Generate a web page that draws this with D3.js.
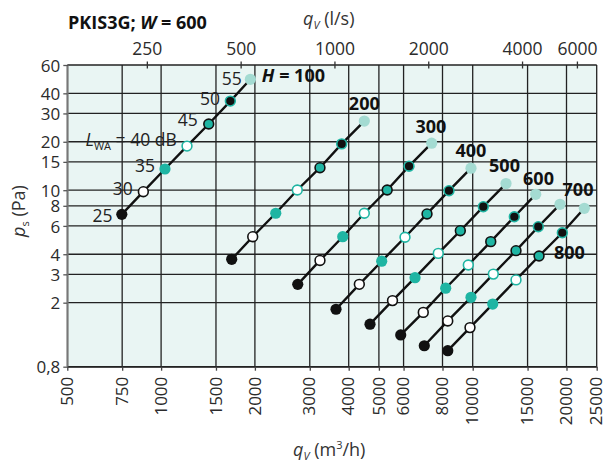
<!DOCTYPE html>
<html>
<head>
<meta charset="utf-8">
<script src="https://cdn.jsdelivr.net/npm/d3@7"></script>
<style>
  body { margin: 0; background: #fff; }
  svg { display: block; }
  text { font-family: "Open Sans", "Noto Sans", sans-serif; fill: #2b2b2b; }
</style>
</head>
<body>
<svg id="chart" width="605" height="464"></svg>
<script>
// Axis ticks
const xTicks = [500, 750, 1000, 1500, 2000, 3000, 4000, 5000, 6000, 8000, 10000, 15000, 20000, 25000]; // m³/h
const yTicks = [0.8, 2, 3, 4, 6, 8, 10, 15, 20, 30, 40, 60];                                      // Pa
const topTicks = [250, 500, 1000, 2000, 4000, 6000];                                              // l/s

// Damper heights H (mm) and sound power levels L_WA (dB) along each line
const heights = [100, 200, 300, 400, 500, 600, 700, 800];
const levels = [25, 30, 35, 40, 45, 50, 55];

// Airflow q_V (m³/h) at each sound level, per height
const qv100 = [748, 877, 1029, 1211, 1422, 1668, 1934];
const qv200 = [1685, 1968, 2333, 2736, 3235, 3798, 4489];
const qv300 = [2745, 3235, 3827, 4489, 5316, 6247, 7385];
const qv400 = [3642, 4327, 5104, 6064, 7135, 8394, 9874];
const qv500 = [4682, 5529, 6530, 7755, 9126, 10816, 12792];
const qv600 = [5875, 6940, 8190, 9680, 11427, 13600, 15930];
const qv700 = [6993, 8317, 9874, 11645, 13772, 16238, 19064];
const qv800 = [8317, 9802, 11594, 13772, 16327, 19391, 22815];

// Static pressure p_s (Pa) at each sound level, per height
const ps100 = [7.08, 9.79, 13.55, 18.8, 25.8, 35.8, 48.9];
const ps200 = [3.72, 5.14, 7.19, 10.03, 13.8, 19.4, 26.9];
const ps300 = [2.60, 3.66, 5.14, 7.19, 10.03, 14.1, 19.6];
const ps400 = [1.82, 2.60, 3.62, 5.10, 7.12, 9.93, 13.7];
const ps500 = [1.47, 2.06, 2.86, 4.05, 5.60, 7.90, 11.0];
const ps600 = [1.26, 1.74, 2.46, 3.43, 4.79, 6.84, 9.43];
const ps700 = [1.08, 1.54, 2.16, 3.01, 4.21, 5.93, 8.17];
const ps800 = [1.006, 1.40, 1.96, 2.77, 3.90, 5.44, 7.72];

const qvSets = [qv100, qv200, qv300, qv400, qv500, qv600, qv700, qv800];
const psSets = [ps100, ps200, ps300, ps400, ps500, ps600, ps700, ps800];

// ---- drawing ----
const W = 605, H = 464;
const m = { l: 67.3, r: 8.3, t: 65, b: 97.3 };
const svg = d3.select("#chart");

const x = d3.scaleLog().domain([500, 25000]).range([m.l, W - m.r]);
const y = d3.scaleLog().domain([0.8, 60]).range([H - m.b, m.t]);
const xTop = d3.scaleLog().domain([500 / 3.6, 25000 / 3.6]).range(x.range()); // 1 l/s = 3.6 m³/h

const BLACK = "#111", TEAL = "#1fb5a3", LIGHT = "#a4dbd2", BG = "#e9f5f3", GRID = "#222";

// plot background
svg.append("rect")
  .attr("x", x.range()[0]).attr("y", y.range()[1])
  .attr("width", x.range()[1] - x.range()[0])
  .attr("height", y.range()[0] - y.range()[1])
  .attr("fill", BG);

// grid
const grid = svg.append("g").attr("stroke", GRID).attr("stroke-width", 1.3);
grid.selectAll("line.v").data(xTicks).join("line").attr("class", "v")
  .attr("x1", d => x(d)).attr("x2", d => x(d))
  .attr("y1", y.range()[0]).attr("y2", y.range()[1]);
grid.selectAll("line.h").data(yTicks).join("line").attr("class", "h")
  .attr("y1", d => y(d)).attr("y2", d => y(d))
  .attr("x1", x.range()[0]).attr("x2", x.range()[1]);

// left axis
const gl = svg.append("g").attr("transform", `translate(${m.l},0)`)
  .call(d3.axisLeft(y).tickValues(yTicks).tickSize(4).tickSizeOuter(0).tickPadding(3)
    .tickFormat(d => d < 1 ? String(d).replace(".", ",") : d));
gl.select(".domain").attr("stroke", "#777").attr("stroke-width", 1.6);
gl.selectAll(".tick line").attr("stroke", "#555").attr("stroke-width", 1.3);
gl.selectAll(".tick text").attr("font-size", 17).attr("fill", "#2b2b2b")
  .attr("font-family", '"Open Sans", sans-serif').attr("dy", "0.36em");

// bottom axis
const gb = svg.append("g").attr("transform", `translate(0,${H - m.b})`)
  .call(d3.axisBottom(x).tickValues(xTicks).tickSize(4).tickSizeOuter(0)
    .tickFormat(d3.format("d")));
gb.select(".domain").attr("stroke", "#222").attr("stroke-width", 1.3);
gb.selectAll(".tick line").attr("stroke", "#444").attr("stroke-width", 1.3);
gb.selectAll(".tick text")
  .attr("font-size", 17).attr("fill", "#2b2b2b").attr("font-family", '"Open Sans", sans-serif')
  .attr("y", 0).attr("x", -10).attr("dy", "0.3em")
  .attr("transform", "rotate(-90)").style("text-anchor", "end");

// top axis (l/s)
const gt = svg.append("g").attr("transform", `translate(0,${m.t})`)
  .call(d3.axisTop(xTop).tickValues(topTicks).tickSize(3).tickSizeOuter(0).tickPadding(7)
    .tickFormat(d3.format("d")));
gt.select(".domain").remove();
gt.selectAll(".tick line").attr("stroke", "#333").attr("stroke-width", 1.3).attr("y2", 3.5).attr("y1", -3.5);
gt.selectAll(".tick text").attr("font-size", 17.5).attr("fill", "#2b2b2b")
  .attr("font-family", '"Open Sans", sans-serif');

// level markers: fill / stroke for 25…55 dB
const markerStyle = [
  { fill: BLACK, stroke: "none" },
  { fill: "#fff", stroke: BLACK },
  { fill: TEAL, stroke: "none" },
  { fill: "#fff", stroke: TEAL },
  { fill: TEAL, stroke: BLACK },
  { fill: BLACK, stroke: TEAL },
  { fill: LIGHT, stroke: "none" }
];

const series = heights.map((h, i) => ({
  h,
  pts: levels.map((lv, j) => ({ lv, j, q: qvSets[i][j], p: psSets[i][j] }))
}));

const line = d3.line().x(d => x(d.q)).y(d => y(d.p));
const gS = svg.append("g");
gS.selectAll("path").data(series).join("path")
  .attr("d", d => line(d.pts))
  .attr("fill", "none").attr("stroke", BLACK).attr("stroke-width", 2.4);

gS.selectAll("g.s").data(series).join("g").attr("class", "s")
  .selectAll("circle").data(d => d.pts).join("circle")
  .attr("cx", d => x(d.q)).attr("cy", d => y(d.p))
  .attr("r", d => markerStyle[d.j].stroke === "none" ? 5.6 : 4.9)
  .attr("fill", d => markerStyle[d.j].fill)
  .attr("stroke", d => markerStyle[d.j].stroke)
  .attr("stroke-width", 1.6);

// height labels, placed relative to the 55 dB point of each line
const hLabelOffset = {
  100: [11.5, 2.6, "start"], 200: [0, -11.3, "middle"], 300: [-0.7, -10.2, "middle"],
  400: [0, -11.2, "middle"], 500: [-1.5, -11.9, "middle"], 600: [2.8, -8.9, "middle"],
  700: [18, -8.6, "middle"], 800: [-15, 50.4, "middle"]
};
series.forEach(s => {
  const last = s.pts[s.pts.length - 1];
  const [dx, dy, anchor] = hLabelOffset[s.h];
  const t = svg.append("text")
    .attr("x", x(last.q) + dx).attr("y", y(last.p) + dy)
    .attr("text-anchor", anchor)
    .attr("font-size", 18).attr("font-weight", "bold").style("fill", "#111");
  if (s.h === 100) {
    t.append("tspan").attr("font-style", "italic").text("H");
    t.append("tspan").text(" = " + s.h);
  } else {
    t.text(s.h);
  }
});

// sound level labels along the first line
const lvOffset = [[-9.4, 7.4], [-10.6, 3.3], [-10, 2.7], [-10.3, 0], [-11, 2], [-10.3, 4], [-8.6, 5.7]];
series[0].pts.forEach(d => {
  const [dx, dy] = lvOffset[d.j];
  const t = svg.append("text")
    .attr("x", x(d.q) + dx).attr("y", y(d.p) + dy)
    .attr("text-anchor", "end").attr("font-size", 17.5).style("fill", "#222");
  if (d.lv === 40) {
    t.append("tspan").attr("font-style", "italic").text("L");
    t.append("tspan").attr("font-size", 11).attr("dy", 4).text("WA");
    t.append("tspan").attr("dy", -4).text(" = " + d.lv + " dB");
  } else {
    t.text(d.lv);
  }
});

// titles
const title = svg.append("text").attr("x", 68).attr("y", 29)
  .attr("font-size", 18).attr("font-weight", "bold").style("fill", "#111");
title.append("tspan").text("PKIS3G; ");
title.append("tspan").attr("font-style", "italic").text("W");
title.append("tspan").text(" = 600");

const tt = svg.append("text").attr("x", 303).attr("y", 24.5).attr("font-size", 18).style("fill", "#333");
tt.append("tspan").attr("font-style", "italic").text("q");
tt.append("tspan").attr("font-style", "italic").attr("font-size", 11).attr("dy", 4).text("V");
tt.append("tspan").attr("dy", -4).text(" (l/s)");

const bt = svg.append("text").attr("x", 293).attr("y", 455.5).attr("font-size", 18).style("fill", "#333");
bt.append("tspan").attr("font-style", "italic").text("q");
bt.append("tspan").attr("font-style", "italic").attr("font-size", 11).attr("dy", 4).text("V");
bt.append("tspan").attr("dy", -4).text(" (m");
bt.append("tspan").attr("font-size", 11).attr("dy", -7).text("3");
bt.append("tspan").attr("dy", 7).text("/h)");

const lt = svg.append("text")
  .attr("transform", "translate(25,211) rotate(-90)")
  .attr("text-anchor", "middle").attr("font-size", 18).style("fill", "#333");
lt.append("tspan").attr("font-style", "italic").text("p");
lt.append("tspan").attr("font-size", 11).attr("dy", 4).text("s");
lt.append("tspan").attr("dy", -4).text(" (Pa)");
</script>
</body>
</html>
